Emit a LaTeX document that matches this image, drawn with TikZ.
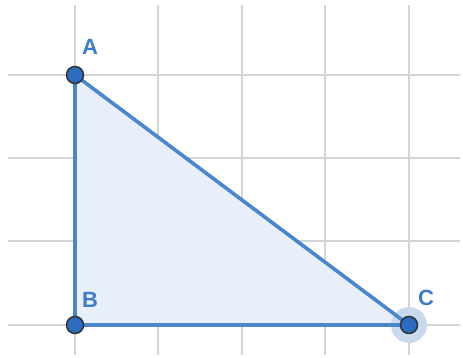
\documentclass[tikz,border=0pt]{standalone}
\usepackage{fontspec}
\setmainfont{Liberation Sans}
\definecolor{gridc}{HTML}{D4D4D4}
\definecolor{edgec}{HTML}{4A86CC}
\definecolor{fillc}{HTML}{E9EFF8}
\definecolor{ptc}{HTML}{2B6BC0}
\definecolor{labc}{HTML}{3D7CC8}
\definecolor{haloc}{HTML}{C9D9EE}
\begin{document}
\begin{tikzpicture}[x=1pt,y=-1pt,
  gridline/.style={gridc,line width=2pt},
  edge/.style={edgec,line width=3.6pt,line join=round},
  pt/.style={circle,fill=ptc,draw=black!80,line width=1.5pt,minimum size=17pt,inner sep=0pt},
  lab/.style={text=labc,font=\bfseries\fontsize{22}{22}\selectfont,inner sep=0pt}]
\useasboundingbox (0,0) rectangle (463,358);
\foreach \x in {75,158,242,325,409} \draw[gridline] (\x,5) -- (\x,355);
\foreach \y in {75,158,241,325} \draw[gridline] (8,\y) -- (460,\y);
\coordinate (a) at (75,75);
\coordinate (b) at (75,325);
\coordinate (c) at (409,325);
\fill[fillc] (a) -- (b) -- (c) -- cycle;
\fill[haloc] (c) circle (18);
\draw[edge] (a) -- (b) -- (c) -- cycle;
\node[pt] (A) at (a) {};
\node[pt] (B) at (b) {};
\node[pt] (C) at (c) {};
\node[lab] (la) at (90,47) {A};
\node[lab] (lb) at (90,300) {B};
\node[lab] (lc) at (426,298) {C};
\end{tikzpicture}
\end{document}
